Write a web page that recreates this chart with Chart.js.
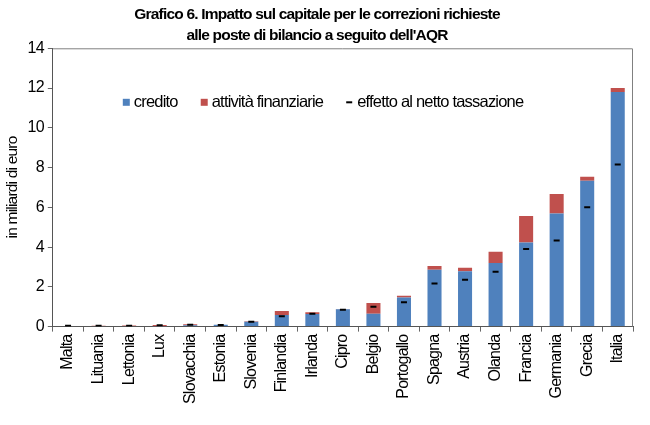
<!DOCTYPE html>
<html>
<head>
<meta charset="utf-8">
<script src="https://cdn.jsdelivr.net/npm/chart.js@4"></script>
<style>
  body { margin: 0; background: #fff; }
  #wrap { width: 650px; height: 425px; }
</style>
</head>
<body>
<div id="wrap"><canvas id="grafico"></canvas></div>
<script>
const paesi = ['Malta', 'Lituania', 'Lettonia', 'Lux', 'Slovacchia', 'Estonia', 'Slovenia', 'Finlandia', 'Irlanda', 'Cipro',
  'Belgio', 'Portogallo', 'Spagna', 'Austria', 'Olanda', 'Francia', 'Germania', 'Grecia', 'Italia'];
const credito = [0.03, 0.03, 0.03, 0.02, 0.07, 0.10, 0.24, 0.59, 0.64, 0.87, 0.65, 1.47, 2.86, 2.79, 3.20, 4.23, 5.69, 7.34, 11.80];
const attivita = [0.00, 0.01, 0.03, 0.06, 0.05, 0.00, 0.03, 0.20, 0.08, 0.02, 0.54, 0.08, 0.19, 0.17, 0.56, 1.34, 0.98, 0.20, 0.20];
const netto = [0.04, 0.04, 0.05, 0.07, 0.10, 0.08, 0.25, 0.52, 0.65, 0.85, 1.00, 1.22, 2.17, 2.36, 2.76, 3.90, 4.33, 6.00, 8.15];
const yTicks = [0, 2, 4, 6, 8, 10, 12, 14];

const FONT = "'Liberation Sans', Arial, sans-serif";
const SPAZIO = '-0.8px'; // testo stretto come Arial Narrow

// lettere piu' strette (il canvas perde lo stato a ogni resize)
const stretto = {
  id: 'stretto',
  beforeLayout(c) { c.ctx.letterSpacing = SPAZIO; },
  beforeDraw(c) { c.ctx.letterSpacing = SPAZIO; }
};

// cornice del grafico (lati sopra e a destra)
const cornice = {
  id: 'cornice',
  afterDatasetsDraw(c) {
    const a = c.chartArea;
    const ctx = c.ctx;
    ctx.save();
    ctx.strokeStyle = '#808080';
    ctx.lineWidth = 1;
    ctx.beginPath();
    ctx.moveTo(a.left, a.top + 0.5);
    ctx.lineTo(a.right - 0.5, a.top + 0.5);
    ctx.lineTo(a.right - 0.5, a.bottom);
    ctx.stroke();
    ctx.restore();
  }
};

// legenda dentro l'area del grafico, su una riga
const legendaInterna = {
  id: 'legendaInterna',
  afterDraw(c) {
    const a = c.chartArea;
    const ctx = c.ctx;
    const y = a.top + 54;
    let x = a.left + 70;
    ctx.save();
    ctx.font = '16.5px ' + FONT;
    ctx.textBaseline = 'middle';
    c.data.datasets.forEach(ds => {
      if (ds.type === 'line') {
        ctx.fillStyle = '#000';
        ctx.fillRect(x, y - 1, 6, 2);
      } else {
        ctx.fillStyle = ds.backgroundColor;
        ctx.fillRect(x, y - 3.5, 7, 7);
      }
      x += 11;
      ctx.fillStyle = '#000';
      ctx.fillText(ds.label, x, y + 0.5);
      x += ctx.measureText(ds.label).width + 23;
    });
    ctx.restore();
  }
};

const ctx = document.getElementById('grafico').getContext('2d');
const chart = new Chart(ctx, {
  type: 'bar',
  data: {
    labels: paesi,
    datasets: [
      { label: 'credito', data: credito, backgroundColor: '#4F81BD', stack: 'a', order: 2 },
      { label: 'attività finanziarie', data: attivita, backgroundColor: '#C0504D', stack: 'a', order: 3 },
      {
        type: 'line', label: 'effetto al netto tassazione', data: netto, stack: 'b', order: 1,
        showLine: false, pointStyle: 'line', pointRadius: 3, pointBorderWidth: 2,
        borderColor: '#000', backgroundColor: '#000', pointHoverRadius: 3
      }
    ]
  },
  options: {
    responsive: true,
    maintainAspectRatio: false,
    animation: false,
    devicePixelRatio: 1,
    layout: { padding: { left: 1, right: 17, top: 0, bottom: 18 } },
    datasets: { bar: { categoryPercentage: 1, barPercentage: 0.46 } },
    plugins: {
      title: {
        display: true,
        text: ['Grafico 6. Impatto sul capitale per le correzioni richieste', "alle poste di bilancio a seguito dell'AQR"],
        color: '#000',
        font: { family: FONT, size: 15.5, weight: 'bold', lineHeight: 1.3 },
        padding: { top: 5, bottom: 3 }
      },
      legend: { display: false },
      tooltip: { enabled: false }
    },
    scales: {
      x: {
        stacked: true,
        grid: { drawOnChartArea: false, drawTicks: true, tickLength: 5, color: '#666' },
        border: { display: true, color: '#555' },
        ticks: { color: '#000', minRotation: 90, maxRotation: 90, autoSkip: false, padding: 3, font: { family: FONT, size: 16 } }
      },
      y: {
        stacked: true,
        min: 0, max: 14,
        afterBuildTicks: s => { s.ticks = yTicks.map(v => ({ value: v })); },
        grid: { drawOnChartArea: false, drawTicks: true, tickLength: 5, color: '#666' },
        border: { display: true, color: '#555' },
        ticks: { color: '#000', padding: 4, font: { family: FONT, size: 16 } },
        title: { display: true, text: 'in miliardi di euro', color: '#000', padding: 2, font: { family: FONT, size: 15.5 } }
      }
    }
  },
  plugins: [stretto, cornice, legendaInterna]
});
</script>
</body>
</html>
